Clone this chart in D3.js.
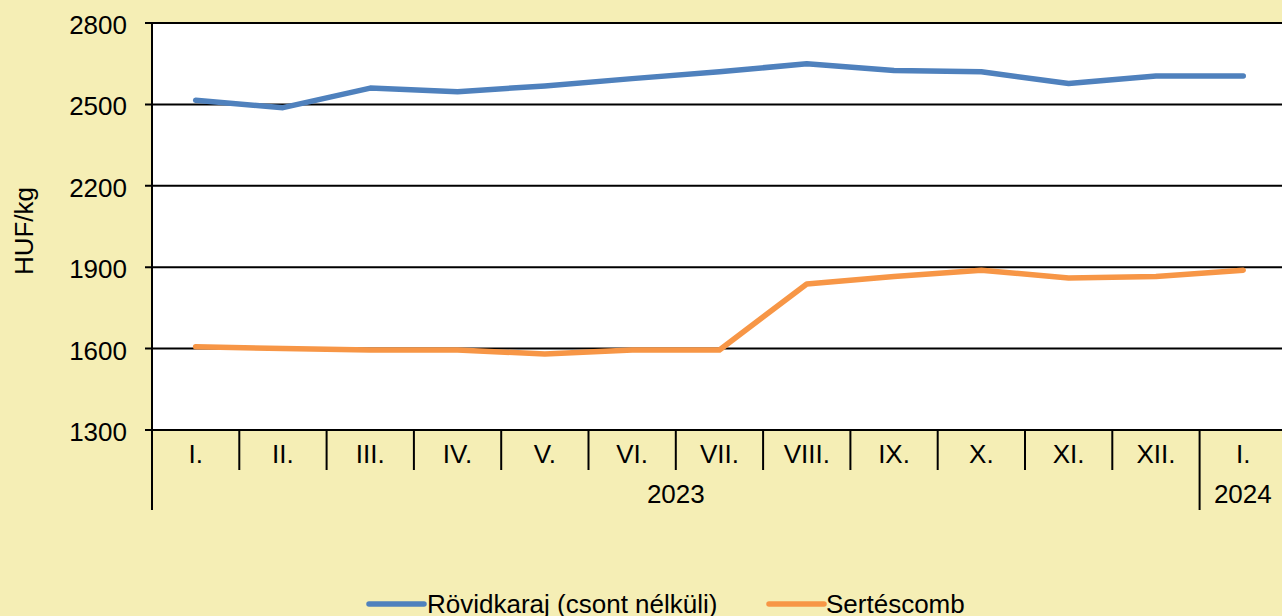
<!DOCTYPE html>
<html><head><meta charset="utf-8">
<script src="https://cdn.jsdelivr.net/npm/d3@7"></script>
<style>
html,body{margin:0;padding:0;background:#F5EEB5;overflow:hidden}
svg{display:block}
text{font-family:"Liberation Sans",Arial,sans-serif;fill:#000}
</style></head><body>
<svg id="c" width="1282" height="616"></svg>
<script>
const months = ["I.","II.","III.","IV.","V.","VI.","VII.","VIII.","IX.","X.","XI.","XII.","I."];
const years = [{label:"2023", start:0, end:12},{label:"2024", start:12, end:13}];
const rovidkaraj = [2515,2488,2560,2547,2568,2595,2620,2650,2625,2620,2577,2605,2605];
const sertescomb = [1607,1600,1595,1595,1580,1595,1595,1838,1866,1889,1860,1866,1889];
const yTicks = [1300,1600,1900,2200,2500,2800];
const seriesNames = ["Rövidkaraj (csont nélküli)","Sertéscomb"];
const colors = ["#4F81BD","#F79646"];

const svg = d3.select("#c");
const L = 152, T = 23, B = 430, R = 152 + 13*87.3;
const x = d3.scaleBand().domain(d3.range(months.length)).range([L,R]).padding(0);
const y = d3.scaleLinear().domain([1300,2800]).range([B,T]);
const FS = 26;

svg.append("rect").attr("x",L).attr("y",T).attr("width",R-L).attr("height",B-T).attr("fill","#fff");

// gridlines
svg.append("g").selectAll("line").data(yTicks).join("line")
  .attr("x1",L-7).attr("x2",R).attr("y1",d=>y(d)).attr("y2",d=>y(d))
  .attr("stroke","#000").attr("stroke-width",2);
svg.append("g").selectAll("text").data(yTicks).join("text")
  .attr("x",127).attr("y",d=>y(d)+11).attr("text-anchor","end")
  .attr("font-size",FS).text(d=>d);

// y axis line
svg.append("line").attr("x1",L).attr("x2",L).attr("y1",T).attr("y2",510).attr("stroke","#000").attr("stroke-width",2);

svg.append("text").attr("transform",`translate(33,231) rotate(-90)`)
  .attr("text-anchor","middle").attr("font-size",FS).text("HUF/kg");

// x category separators
const seps = d3.range(1,months.length);
svg.append("g").selectAll("line").data(seps).join("line")
  .attr("x1",d=>x(d)).attr("x2",d=>x(d)).attr("y1",B).attr("y2",d=> years.some(yr=>yr.start===d)?510:470)
  .attr("stroke","#000").attr("stroke-width",2);
svg.append("g").selectAll("text").data(months).join("text")
  .attr("x",(d,i)=>x(i)+x.bandwidth()/2).attr("y",463).attr("text-anchor","middle")
  .attr("font-size",FS).text(d=>d);
svg.append("g").selectAll("text").data(years).join("text")
  .attr("x",d=>(x(d.start)+ (d.end<months.length? x(d.end): Math.min(R,1286)))/2).attr("y",503).attr("text-anchor","middle")
  .attr("font-size",FS).text(d=>d.label);

const line = d3.line().x((d,i)=>x(i)+x.bandwidth()/2).y(d=>y(d));
[rovidkaraj,sertescomb].forEach((s,k)=>{
  svg.append("path").attr("d",line(s)).attr("fill","none").attr("stroke",colors[k])
    .attr("stroke-width",5.5).attr("stroke-linejoin","round").attr("stroke-linecap","round");
});

// legend
const lg = [{x:369,tx:427},{x:769,tx:826}];
seriesNames.forEach((n,k)=>{
  svg.append("line").attr("x1",lg[k].x).attr("x2",lg[k].x+55).attr("y1",604).attr("y2",604)
    .attr("stroke",colors[k]).attr("stroke-width",5.5).attr("stroke-linecap","round");
  svg.append("text").attr("x",lg[k].tx).attr("y",613).attr("font-size",FS).text(n);
});
</script></body></html>
